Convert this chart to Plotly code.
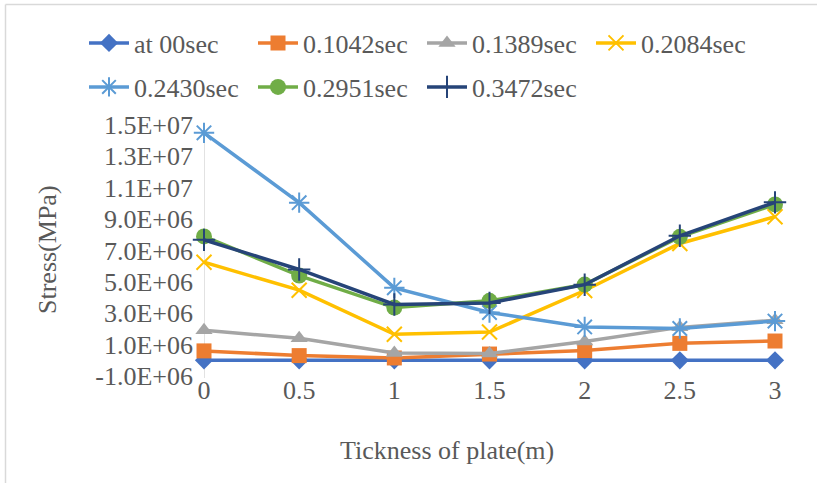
import plotly.graph_objects as go

# Plate thickness (m) and stress values per time step
thickness = [0, 0.5, 1, 1.5, 2, 2.5, 3]
x_tick_labels = ["0", "0.5", "1", "1.5", "2", "2.5", "3"]

series_names = ["at 00sec", "0.1042sec", "0.1389sec", "0.2084sec",
                "0.2430sec", "0.2951sec", "0.3472sec"]

stress_t0000 = [0, 0, 0, 0, 0, 0, 0]
stress_t1042 = [0.60e6, 0.30e6, 0.15e6, 0.40e6, 0.62e6, 1.08e6, 1.23e6]
stress_t1389 = [1.92e6, 1.40e6, 0.47e6, 0.43e6, 1.20e6, 2.10e6, 2.56e6]
stress_t2084 = [6.25e6, 4.47e6, 1.66e6, 1.80e6, 4.45e6, 7.45e6, 9.15e6]
stress_t2430 = [14.5e6, 10.05e6, 4.62e6, 3.05e6, 2.13e6, 2.03e6, 2.50e6]
stress_t2951 = [7.90e6, 5.40e6, 3.36e6, 3.79e6, 4.83e6, 7.87e6, 9.94e6]
stress_t3472 = [7.68e6, 5.79e6, 3.56e6, 3.66e6, 4.82e6, 7.94e6, 10.07e6]

y_tick_vals = [-1e6, 1e6, 3e6, 5e6, 7e6, 9e6, 11e6, 13e6, 15e6]
y_tick_labels = ["-1.0E+06", "1.0E+06", "3.0E+06", "5.0E+06", "7.0E+06",
                 "9.0E+06", "1.1E+07", "1.3E+07", "1.5E+07"]

all_series = [stress_t0000, stress_t1042, stress_t1389, stress_t2084,
              stress_t2430, stress_t2951, stress_t3472]

colors = ["#4472C4", "#ED7D31", "#A5A5A5", "#FFC000",
          "#5B9BD5", "#70AD47", "#264478"]
symbols = ["diamond", "square", "triangle-up", "x-thin-open",
           "asterisk-open", "circle", "cross-thin-open"]
sizes = [14, 15, 15, 15, 17, 16, 16]

W, H = 817, 483
L, R, T, B = 204, 42, 125, 107
PW, PH = W - L - R, H - T - B

def px_x(px):
    return (px - L) / PW

def px_y(py):
    return (H - B - py) / PH

TEXT = "#595959"
FONT = "Liberation Serif"
FS = 26

fig = go.Figure()
for i, (name, vals) in enumerate(zip(series_names, all_series)):
    thin = symbols[i].endswith("-open")
    fig.add_trace(go.Scatter(
        x=thickness, y=vals, name=name, mode="lines+markers",
        line=dict(color=colors[i], width=3.5),
        marker=dict(symbol=symbols[i], size=sizes[i], color=colors[i],
                    line=dict(color=colors[i], width=2 if thin else 0)),
        cliponaxis=False,
        legend="legend" if i < 4 else "legend2",
    ))

legend_common = dict(
    orientation="h", xanchor="left", yanchor="middle",
    font=dict(family=FONT, size=FS, color=TEXT),
    entrywidth=114, entrywidthmode="pixels",
    bgcolor="rgba(0,0,0,0)", itemwidth=40, tracegroupgap=0,
)

fig.update_layout(
    width=W, height=H,
    margin=dict(l=L, r=R, t=T, b=B),
    paper_bgcolor="white", plot_bgcolor="white",
    font=dict(family=FONT, color=TEXT),
    legend=dict(x=px_x(84), y=px_y(43), **legend_common),
    legend2=dict(x=px_x(84), y=px_y(87), **legend_common),
    xaxis=dict(
        range=[0, 3], tickvals=thickness, ticktext=x_tick_labels,
        showgrid=False, zeroline=False, showline=False, ticks="",
        tickfont=dict(family=FONT, size=FS, color=TEXT),
        ticklabelstandoff=-4,
    ),
    yaxis=dict(
        range=[-1e6, 15e6], tickvals=y_tick_vals, ticktext=y_tick_labels,
        showgrid=False, zeroline=False, showline=False, ticks="",
        tickfont=dict(family=FONT, size=FS, color=TEXT),
        ticklabelstandoff=10,
    ),
    annotations=[
        dict(text="Stress(MPa)", x=px_x(47), y=px_y(250), xref="paper", yref="paper",
             showarrow=False, textangle=-90, xanchor="center", yanchor="middle",
             font=dict(family=FONT, size=FS, color=TEXT)),
        dict(text="Tickness of plate(m)", x=px_x(447), y=px_y(450), xref="paper", yref="paper",
             showarrow=False, xanchor="center", yanchor="middle",
             font=dict(family=FONT, size=FS, color=TEXT)),
    ],
    shapes=[
        # vertical value axis line at x = 0
        dict(type="line", xref="x", yref="paper", x0=0, x1=0, y0=px_y(378), y1=px_y(125),
             line=dict(color="#D9D9D9", width=1.5), layer="below"),
        # chart frame edges
        dict(type="line", xref="paper", yref="paper", x0=px_x(5.5), x1=px_x(5.5),
             y0=px_y(4.5), y1=px_y(483), line=dict(color="#D9D9D9", width=1.5)),
        dict(type="line", xref="paper", yref="paper", x0=px_x(5.5), x1=px_x(817),
             y0=px_y(4.5), y1=px_y(4.5), line=dict(color="#D9D9D9", width=1.5)),
    ],
)

fig.write_html("out.html")
